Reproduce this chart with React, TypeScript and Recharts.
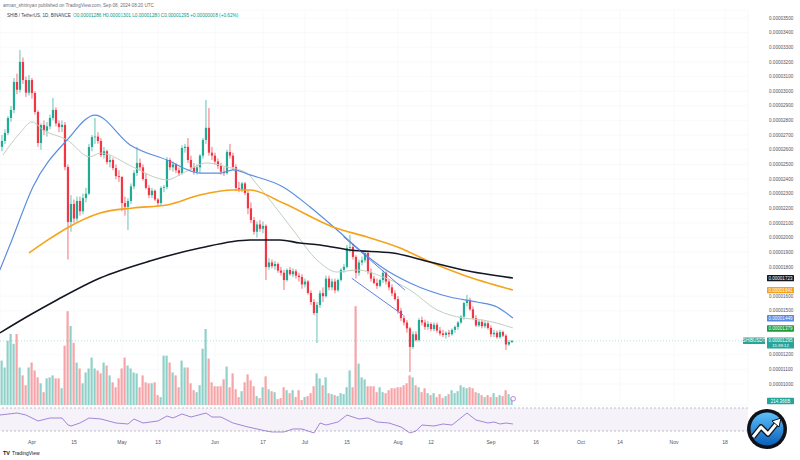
import React from "react";
import {
  Bar,
  Cell,
  ComposedChart,
  CartesianGrid,
  Line,
  ReferenceArea,
  ReferenceDot,
  ReferenceLine,
  XAxis,
  YAxis,
} from "recharts";

// day 0 = Apr 1 2024, first candle = Mar 22
const FIRST_DAY = -10;

// prices in 1e-8 USDT
const OPENS = [
  2620, 2660, 2715, 2817, 2872, 3063, 3010, 3200, 3076, 2990,
  3076, 2988, 2858, 2646, 2769, 2730, 2760, 2817, 2872, 2780,
  2755, 2770, 2482, 2107, 2230, 2130, 2250, 2180, 2270, 2300,
  2619, 2687, 2690, 2660, 2564, 2590, 2516, 2530, 2475, 2420,
  2414, 2236, 2210, 2250, 2350, 2441, 2510, 2480, 2400, 2340,
  2290, 2320, 2260, 2236, 2339, 2345, 2530, 2480, 2500, 2460,
  2440, 2612, 2620, 2530, 2480, 2450, 2480, 2560, 2667, 2750,
  2580, 2560, 2520, 2490, 2450, 2440, 2585, 2560, 2482, 2339,
  2330, 2370, 2305, 2200, 2120, 2040, 2090, 2060, 2080, 1799,
  1830, 1805, 1820, 1775, 1760, 1710, 1779, 1750, 1770, 1740,
  1731, 1680, 1700, 1622, 1560, 1485, 1540, 1620, 1600, 1720,
  1660, 1700, 1640, 1710, 1780, 1800, 1930, 1936, 1868, 1760,
  1830, 1845, 1895, 1765, 1720, 1690, 1670, 1710, 1760, 1700,
  1660, 1620, 1580, 1500, 1450, 1420, 1380, 1253, 1340, 1300,
  1437, 1420, 1390, 1410, 1375, 1405, 1365, 1345, 1335, 1350,
  1340, 1370, 1390, 1420, 1460, 1553, 1574, 1510, 1450, 1400,
  1425, 1395, 1415, 1383, 1340, 1350, 1320, 1355, 1330, 1270, 1286,
];
const HIGHS = [
  2700, 2740, 2830, 2900, 3090, 3120, 3281, 3230, 3100, 3110,
  3090, 3000, 2870, 2780, 2800, 2790, 2840, 2954, 2890, 2800,
  2800, 2790, 2500, 2290, 2260, 2280, 2280, 2300, 2340, 2640,
  2700, 2817, 2720, 2680, 2620, 2600, 2560, 2545, 2500, 2460,
  2420, 2280, 2270, 2370, 2460, 2619, 2540, 2500, 2440, 2360,
  2340, 2330, 2270, 2350, 2360, 2550, 2545, 2520, 2510, 2480,
  2630, 2640, 2680, 2560, 2510, 2500, 2570, 2680, 2940, 2885,
  2620, 2580, 2540, 2510, 2480, 2600, 2640, 2580, 2500, 2380,
  2380, 2380, 2320, 2240, 2140, 2110, 2120, 2110, 2090, 1860,
  1850, 1840, 1830, 1800, 1780, 1790, 1800, 1790, 1785, 1760,
  1750, 1720, 1710, 1640, 1580, 1560, 1640, 1660, 1740, 1740,
  1720, 1720, 1720, 1790, 1820, 1950, 2018, 1960, 1880, 1850,
  1870, 1900, 1910, 1790, 1740, 1720, 1720, 1780, 1770, 1720,
  1680, 1640, 1600, 1520, 1470, 1437, 1390, 1360, 1360, 1450,
  1460, 1440, 1430, 1420, 1420, 1420, 1390, 1370, 1360, 1370,
  1380, 1400, 1430, 1470, 1560, 1608, 1590, 1530, 1470, 1440,
  1440, 1430, 1430, 1400, 1370, 1365, 1370, 1365, 1340, 1300, 1301,
];
const LOWS = [
  2590, 2640, 2700, 2790, 2850, 2980, 2990, 3050, 2960, 2970,
  2950, 2840, 2620, 2600, 2700, 2690, 2740, 2800, 2760, 2720,
  2720, 2460, 1850, 2040, 2100, 2110, 2150, 2160, 2240, 2290,
  2590, 2640, 2640, 2550, 2540, 2500, 2480, 2460, 2400, 2380,
  2180, 2150, 2052, 2230, 2330, 2420, 2460, 2390, 2330, 2270,
  2270, 2250, 2210, 2220, 2310, 2330, 2460, 2450, 2440, 2420,
  2430, 2580, 2510, 2460, 2430, 2430, 2440, 2540, 2640, 2560,
  2530, 2500, 2470, 2430, 2420, 2430, 2540, 2460, 2320, 2310,
  2310, 2290, 2160, 2100, 2020, 2000, 2040, 2030, 1710, 1780,
  1790, 1780, 1760, 1740, 1642, 1700, 1740, 1730, 1720, 1700,
  1650, 1660, 1610, 1540, 1470, 1280, 1520, 1560, 1590, 1640,
  1640, 1620, 1630, 1700, 1760, 1790, 1900, 1850, 1720, 1740,
  1810, 1830, 1750, 1700, 1680, 1650, 1660, 1690, 1680, 1640,
  1600, 1570, 1480, 1430, 1400, 1350, 1082, 1240, 1290, 1290,
  1400, 1370, 1370, 1360, 1360, 1350, 1330, 1320, 1310, 1320,
  1330, 1350, 1370, 1410, 1440, 1530, 1500, 1440, 1390, 1390,
  1380, 1380, 1370, 1320, 1320, 1310, 1310, 1320, 1232, 1260, 1280,
];
const CLOSES = [
  2660, 2715, 2817, 2872, 3063, 3010, 3200, 3076, 2990, 3076,
  2988, 2858, 2646, 2769, 2730, 2760, 2817, 2872, 2780, 2755,
  2770, 2482, 2107, 2230, 2130, 2250, 2180, 2270, 2300, 2619,
  2687, 2690, 2660, 2564, 2590, 2516, 2530, 2475, 2420, 2414,
  2236, 2210, 2250, 2350, 2441, 2510, 2480, 2400, 2340, 2290,
  2320, 2260, 2236, 2339, 2345, 2530, 2480, 2500, 2460, 2440,
  2612, 2620, 2530, 2480, 2450, 2480, 2560, 2667, 2750, 2580,
  2560, 2520, 2490, 2450, 2440, 2585, 2560, 2482, 2339, 2330,
  2370, 2305, 2200, 2120, 2040, 2090, 2060, 2080, 1799, 1830,
  1805, 1820, 1775, 1760, 1710, 1779, 1750, 1770, 1740, 1731,
  1680, 1700, 1622, 1560, 1485, 1540, 1620, 1600, 1720, 1660,
  1700, 1640, 1710, 1780, 1800, 1930, 1936, 1868, 1760, 1830,
  1845, 1895, 1765, 1720, 1690, 1670, 1710, 1760, 1700, 1660,
  1620, 1580, 1500, 1450, 1420, 1380, 1253, 1340, 1300, 1437,
  1420, 1390, 1410, 1375, 1405, 1365, 1345, 1335, 1350, 1340,
  1370, 1390, 1420, 1460, 1553, 1574, 1510, 1450, 1400, 1425,
  1395, 1415, 1383, 1340, 1350, 1320, 1355, 1330, 1270, 1287, 1295,
];
// volume, billions SHIB
const VOLUMES = [
  1350, 1140, 1950, 2160, 1860, 2160, 1140, 900, 600, 1140,
  1290, 1050, 840, 660, 390, 810, 840, 900, 810, 810,
  510, 1800, 2850, 2400, 1890, 1290, 1110, 660, 990, 1110,
  1440, 1110, 1050, 960, 1290, 1200, 900, 690, 540, 810,
  1110, 1440, 1200, 1110, 990, 960, 540, 900, 690, 660,
  660, 690, 300, 240, 1500, 1500, 1290, 990, 900, 540,
  1350, 1140, 1140, 660, 450, 390, 600, 1710, 2310, 1410,
  690, 570, 570, 570, 780, 1170, 540, 960, 480, 240,
  420, 690, 930, 750, 570, 270, 210, 540, 870, 480,
  420, 390, 180, 210, 540, 450, 360, 450, 240, 450,
  150, 240, 270, 360, 570, 960, 810, 600, 840, 360,
  330, 300, 270, 360, 330, 540, 1050, 540, 3000, 1260,
  840, 780, 570, 570, 570, 390, 540, 390, 360, 450,
  510, 510, 540, 540, 600, 660, 900, 840, 600, 540,
  390, 510, 360, 300, 360, 240, 330, 210, 270, 330,
  450, 360, 420, 600, 540, 510, 540, 510, 390, 360,
  300, 240, 300, 240, 360, 240, 300, 270, 450, 330, 214.366,
];

// moving averages: [day, price]
const MA20 = [
  [-9.7, 2564], [-4, 2715], [0, 2790], [3.7, 2735], [11.7, 2667], [19.3, 2551],
  [22.7, 2578], [33.7, 2482], [41.7, 2407], [45, 2394], [50.3, 2441], [58.3, 2510],
  [65, 2482], [71.7, 2441], [74.3, 2380], [79.3, 2257], [87, 2052], [95, 1847],
  [101.7, 1765], [108.3, 1779], [117, 1731], [126, 1642], [135, 1506], [143.7, 1451],
  [150.3, 1437], [160.3, 1383],
];
const MA50 = [
  [-10.7, 1779], [-6.7, 1984], [0.3, 2346], [11.7, 2667], [21, 2837], [32.7, 2633],
  [45, 2530], [56, 2441], [62.7, 2441], [67, 2462], [72.7, 2428], [83.7, 2346],
  [92.7, 2209], [101.7, 2052], [109.3, 1915], [117, 1792], [126, 1690], [139.3, 1594],
  [148.3, 1560], [155, 1526], [160.3, 1451],
];
const MA100 = [
  [-1, 1895], [5.3, 1984], [11.7, 2066], [22.7, 2168], [33.7, 2202], [45, 2223],
  [56, 2291], [67, 2325], [72.7, 2325], [83.7, 2236], [100.3, 2073], [111.7, 2004],
  [122.7, 1929], [132.7, 1833], [143.7, 1745], [160.3, 1642],
];
const MA200 = [
  [-10.7, 1349], [-0.7, 1471], [8.3, 1574], [22.7, 1724], [39.3, 1840], [56, 1929],
  [72.7, 1984], [82.7, 1984], [89.3, 1963], [96, 1950], [106, 1915], [120.3, 1895],
  [132.7, 1833], [143.7, 1779], [160.3, 1724],
];
const CHANNEL_UPPER = [[103.8, 2006], [124.3, 1642]];
const CHANNEL_LOWER = [[106.6, 1722], [123.7, 1471]];

const RSI = [
  [-10.7, 57.8], [-5, 61.3], [-2, 57.8], [2, 47.4], [6, 52.6], [10, 52.6], [12, 40.4],
  [13, 38.7], [16, 43.9], [19, 52.6], [23, 50.9], [28, 43.9], [32, 42.2], [34, 50.9],
  [37, 43.9], [42, 47.4], [45, 56.1], [47, 52.6], [50, 59.6], [53, 54.3], [58, 61.3],
  [60, 54.3], [63, 54.3], [67, 43.9], [72, 37], [78, 30], [80, 28.3], [84, 28.3],
  [87, 33.5], [90, 33.5], [94, 26.5], [96, 43.9], [98, 40.4], [102, 45.7], [105, 57.8],
  [107, 54.3], [109, 50.9], [112, 52.6], [115, 45.7], [119, 43.9], [123, 37], [126, 26.5],
  [128, 30], [130, 40.4], [134, 38.7], [137, 42.2], [140, 40.4], [145, 61.3], [148, 49.1],
  [152, 43.9], [154, 45.7], [156, 42.2], [158, 43.9], [160.3, 42.2],
];

const DATE_TICKS = [0, 14, 30, 42, 61, 77, 91, 105, 122, 133, 153, 168, 183, 196, 214, 231];
const DATE_LABELS = ["Apr", "15", "May", "13", "Jun", "17", "Jul", "15", "Aug", "12", "Sep", "16", "Oct", "14", "Nov", "18"];
const PRICE_TICKS = [1000, 1100, 1200, 1500, 1600, 1800, 1900, 2000, 2100, 2200, 2300, 2400, 2500, 2600, 2700, 2800, 2900, 3000, 3100, 3200, 3300, 3400, 3500];

const X_DOMAIN = [-10.67, 238.67];
const UP = "#22ab94";
const DOWN = "#f23645";
const AXIS_TEXT = "#50535e";

const candles = CLOSES.map((c, i) => ({
  day: FIRST_DAY + i,
  o: OPENS[i],
  h: HIGHS[i],
  l: LOWS[i],
  c,
  range: [LOWS[i], HIGHS[i]],
  vol: VOLUMES[i],
}));
const toPts = (arr: number[][]) => arr.map(([day, v]) => ({ day, v }));
const fmtPrice = (v: number) => (v / 1e8).toFixed(8);

function Candle(props: any) {
  const { x, y, width, height } = props;
  const p = props.payload || props;
  if (x == null || p.o == null) return null;
  const top = Math.min(y, y + height);
  const hh = Math.abs(height);
  const up = p.c >= p.o;
  const col = up ? UP : DOWN;
  const span = p.h - p.l || 1;
  const py = (v: number) => top + ((p.h - v) / span) * hh;
  const cx = x + width / 2;
  const b1 = py(Math.max(p.o, p.c));
  const b2 = py(Math.min(p.o, p.c));
  return (
    <g>
      <line x1={cx} x2={cx} y1={top} y2={top + hh} stroke={col} strokeWidth={0.7} />
      <rect x={cx - 1.1} y={b1} width={2.2} height={Math.max(b2 - b1, 0.7)} fill={col} />
    </g>
  );
}

function Tag({ vb, text, color, sub, dx = 19, w = 27, dy = 0 }: any) {
  if (!vb) return null;
  const x = vb.x + vb.width + dx;
  const cy = vb.y + dy;
  const h = sub ? 11 : 6.4;
  return (
    <g>
      <rect x={x} y={cy - 3.2} width={w} height={h} fill={color} rx={0.6} />
      <text x={x + w / 2} y={cy + 1.6} fontSize={4.5} fill="#fff" textAnchor="middle">{text}</text>
      {sub && (
        <text x={x + w / 2} y={cy + 6.6} fontSize={4.3} fill="#fff" textAnchor="middle">{sub}</text>
      )}
    </g>
  );
}

function Logo() {
  return (
    <svg width={42} height={42} viewBox="0 0 42 42" style={{ position: "absolute", left: 746, top: 408 }}>
      <defs>
        <linearGradient id="lg" x1="0" y1="0" x2="0" y2="1">
          <stop offset="0" stopColor="#5cc0fa" />
          <stop offset="1" stopColor="#0b5fb8" />
        </linearGradient>
      </defs>
      <circle cx={21} cy={21} r={20} fill="#0e1117" />
      <circle cx={21} cy={21} r={16.5} fill="url(#lg)" />
      <polyline points="7,29 15,19 22,26 31,15" stroke="#0e1117" strokeWidth={5.5} fill="none" strokeLinejoin="round" />
      <polyline points="7,29 15,19 22,26 31,15" stroke="#fff" strokeWidth={3} fill="none" strokeLinejoin="round" />
      <polygon points="26,13 35,10 33,19" fill="#fff" stroke="#0e1117" strokeWidth={1} />
    </svg>
  );
}

export default function App() {
  const lastVol = VOLUMES[VOLUMES.length - 1];
  const lastClose = CLOSES[CLOSES.length - 1];
  return (
    <div
      style={{
        position: "absolute",
        left: 0,
        top: 0,
        width: 800,
        height: 460,
        background: "#fff",
        fontFamily: "'Liberation Sans', Arial, sans-serif",
        overflow: "hidden",
      }}
    >
      <div style={{ position: "absolute", left: 3, top: 2.5, fontSize: 4.6, lineHeight: "5px", color: "#6a6d78", whiteSpace: "nowrap" }}>
        arman_shirinyan published on TradingView.com, Sep 08, 2024 08:20 UTC
      </div>
      <div style={{ position: "absolute", left: 7, top: 12.5, fontSize: 4.5, lineHeight: "5px", color: "#3b3e48", whiteSpace: "nowrap" }}>
        SHIB / TetherUS, 1D, BINANCE
      </div>
      <div style={{ position: "absolute", left: 73, top: 12.5, fontSize: 4.7, lineHeight: "5px", color: "#089981", whiteSpace: "nowrap" }}>
        O0.00001286 H0.00001301 L0.00001280 C0.00001295 +0.00000008 (+0.62%)
      </div>

      <div style={{ position: "absolute", left: 0, top: 0 }}>
        <ComposedChart width={800} height={410} data={candles} margin={{ top: 10, right: 0, bottom: 5, left: 0 }}>
          <CartesianGrid stroke="#f4f5f8" strokeWidth={0.6} />
          <XAxis dataKey="day" type="number" domain={X_DOMAIN} allowDataOverflow ticks={DATE_TICKS} hide />
          <XAxis xAxisId="v" dataKey="day" type="number" domain={X_DOMAIN} allowDataOverflow hide />
          <YAxis
            orientation="right"
            width={52}
            domain={[856.6, 3554.6]}
            allowDataOverflow
            ticks={PRICE_TICKS}
            interval={0}
            tickFormatter={fmtPrice}
            tickSize={0}
            tickMargin={21}
            tickLine={false}
            axisLine={false}
            tick={{ fontSize: 4.6, fill: AXIS_TEXT }}
          />
          <YAxis yAxisId="vol" hide domain={[0, 12000]} allowDataOverflow />

          <Bar xAxisId="v" yAxisId="vol" dataKey="vol" barSize={2.2} isAnimationActive={false}>
            {candles.map((d, i) => (
              <Cell key={i} fill={d.c >= d.o ? "#8fd1c8" : "#f6a4a7"} />
            ))}
          </Bar>

          <ReferenceLine y={lastClose} stroke="#26a69a" strokeOpacity={0.5} strokeDasharray="1 2" strokeWidth={0.7} />

          <Line data={toPts(MA20)} dataKey="v" type="monotone" stroke="#c3d0bf" strokeWidth={1} dot={false} isAnimationActive={false} />
          <Line data={toPts(MA50)} dataKey="v" type="monotone" stroke="#5b8ee0" strokeWidth={1.2} dot={false} isAnimationActive={false} />
          <Line data={toPts(MA100)} dataKey="v" type="monotone" stroke="#f5a31a" strokeWidth={1.6} dot={false} isAnimationActive={false} />
          <Line data={toPts(MA200)} dataKey="v" type="monotone" stroke="#131722" strokeWidth={1.6} dot={false} isAnimationActive={false} />

          <ReferenceLine
            segment={CHANNEL_UPPER.map(([x, y]) => ({ x, y }))}
            stroke="#4f72d8"
            strokeWidth={0.9}
            ifOverflow="visible"
          />
          <ReferenceLine
            segment={CHANNEL_LOWER.map(([x, y]) => ({ x, y }))}
            stroke="#4f72d8"
            strokeWidth={0.9}
            ifOverflow="visible"
          />

          <Bar dataKey="range" barSize={3} shape={(p: any) => <Candle {...p} />} isAnimationActive={false} />

          <ReferenceLine y={1723} stroke="none" label={(p: any) => <Tag vb={p.viewBox} text={fmtPrice(1723)} color="#131722" />} />
          <ReferenceLine y={1641} stroke="none" label={(p: any) => <Tag vb={p.viewBox} text={fmtPrice(1641)} color="#f5a31a" />} />
          <ReferenceLine y={1449} stroke="none" label={(p: any) => <Tag vb={p.viewBox} text={fmtPrice(1449)} color="#5b86e0" />} />
          <ReferenceLine y={1379} stroke="none" label={(p: any) => <Tag vb={p.viewBox} text={fmtPrice(1379)} color="#1f9a3c" />} />
          <ReferenceLine
            y={lastClose}
            stroke="none"
            label={(p: any) => (
              <g>
                <Tag vb={p.viewBox} text="SHIBUSDT" color="#26a69a" dx={-5} w={22} />
                <Tag vb={p.viewBox} text={fmtPrice(lastClose)} color="#26a69a" sub="15:39:12" />
              </g>
            )}
          />
          <ReferenceLine
            yAxisId="vol"
            y={lastVol}
            stroke="none"
            label={(p: any) => <Tag vb={p.viewBox} text="214.366B" color="#26a69a" dy={3} />}
          />
          <ReferenceDot yAxisId="vol" x={160.4} y={190} r={2.3} fill="#fff" stroke="#a66ad8" strokeWidth={0.8} />
        </ComposedChart>
      </div>

      <div style={{ position: "absolute", left: 0, top: 400 }}>
        <ComposedChart width={800} height={60} data={toPts(RSI)} margin={{ top: 4, right: 0, bottom: 0, left: 0 }}>
          <XAxis
            dataKey="day"
            type="number"
            domain={X_DOMAIN}
            allowDataOverflow
            ticks={DATE_TICKS}
            interval={0}
            tickFormatter={(d: number) => DATE_LABELS[DATE_TICKS.indexOf(d)]}
            height={23}
            tickSize={0}
            tickMargin={3}
            tickLine={false}
            axisLine={false}
            tick={{ fontSize: 5, fill: AXIS_TEXT }}
          />
          <YAxis orientation="right" width={52} domain={[19.57, 76.96]} allowDataOverflow tick={false} tickLine={false} axisLine={false} />
          <ReferenceArea y1={30} y2={70} fill="#7e57c2" fillOpacity={0.08} stroke="none" />
          <ReferenceLine y={70} stroke="#9598a1" strokeDasharray="2 2" strokeWidth={0.6} />
          <ReferenceLine y={30} stroke="#9598a1" strokeDasharray="2 2" strokeWidth={0.6} />
          <Line dataKey="v" type="linear" stroke="#8e6bcf" strokeWidth={0.8} dot={false} isAnimationActive={false} />
        </ComposedChart>
      </div>

      <div style={{ position: "absolute", left: 3, top: 450, fontSize: 5, lineHeight: "6px", color: "#131722", whiteSpace: "nowrap" }}>
        <span style={{ fontWeight: 700, fontSize: 5.5, marginRight: 2 }}>TV</span>TradingView
      </div>
      <Logo />
    </div>
  );
}
